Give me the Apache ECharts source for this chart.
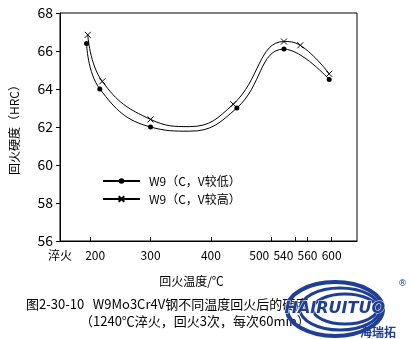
<!DOCTYPE html>
<html>
<head>
<meta charset="utf-8">
<script src="https://cdn.jsdelivr.net/npm/echarts@6/dist/echarts.min.js"></script>
<style>
html,body{margin:0;padding:0;background:#fff;}
#c{width:410px;height:339px;}
</style>
</head>
<body>
<div id="c"></div>
<script>
// ---- data ----
const xTickValues = [150, 200, 300, 400, 500, 540, 560, 600];
const xTickLabels = ['淬火', '200', '300', '400', '500', '540', '560', '600'];
const yTickValues = [56, 58, 60, 62, 64, 66, 68];

const lowName = 'W9（C，V较低）';
const lowTemps = [194, 216, 300, 365, 443, 521, 596];
const lowHardness = [66.4, 64.0, 62.0, 61.78, 63.0, 66.1, 64.5];
const lowMarked = [true, true, true, false, true, true, true];

const highName = 'W9（C，V较高）';
const highTemps = [196, 220, 300, 365, 437, 521, 548, 596];
const highHardness = [66.85, 64.4, 62.4, 62.02, 63.2, 66.5, 66.3, 64.8];
const highMarked = [true, true, true, false, true, true, true, true];

const titleLine1 = '图2-30-10   W9Mo3Cr4V钢不同温度回火后的硬度';
const titleLine2 = '（1240℃淬火，回火3次，每次60min）';
const xName = '回火温度/℃';
const yName = '回火硬度（HRC）';

// ---- rendering ----
const FONT = '"Noto Sans CJK SC", "Noto Sans", sans-serif';
const labelShift = {200: 'r5', 500: 'l12', 540: 'l12'};

function buildData(xs, ys, marked) {
  return xs.map((x, i) => marked[i] ? [x, ys[i]] : {value: [x, ys[i]], symbol: 'none'});
}

const xMark = 'path://M0,0L10,10M10,0L0,10';

const chart = echarts.init(document.getElementById('c'), null, {renderer: 'canvas'});
chart.setOption({
  animation: false,
  backgroundColor: '#fff',
  grid: {left: 60, top: 13, right: 53, bottom: 98, show: true, borderColor: '#000', borderWidth: 1, containLabel: false},
  legend: {
    orient: 'vertical', left: 97, top: 170,
    itemWidth: 37, itemHeight: 7, itemGap: 6,
    textStyle: {fontSize: 12, color: '#000', fontFamily: FONT, padding: [0, 0, 0, 4]},
    data: [lowName, highName]
  },
  xAxis: {
    type: 'value', min: 150, max: 642,
    name: xName, nameLocation: 'middle', nameGap: 34,
    nameTextStyle: {fontSize: 12, color: '#000', fontFamily: FONT, padding: [0, 34, 0, 0]},
    axisLine: {show: true, lineStyle: {color: '#000', width: 1}},
    axisTick: {show: true, inside: true, length: 4, lineStyle: {color: '#000'}, customValues: xTickValues.slice(1)},
    axisLabel: {
      color: '#000', fontSize: 12, fontFamily: FONT, margin: 8,
      customValues: xTickValues,
      formatter: function (v) {
        const i = xTickValues.indexOf(v);
        const s = i >= 0 ? xTickLabels[i] : '';
        const k = labelShift[v];
        return k ? '{' + k + '|' + s + '}' : s;
      },
      rich: {
        r5: {padding: [0, 0, 0, 10], fontSize: 12, color: '#000', fontFamily: FONT},
        l12: {padding: [0, 24, 0, 0], fontSize: 12, color: '#000', fontFamily: FONT}
      }
    },
    splitLine: {show: false}
  },
  yAxis: {
    type: 'value', min: 56, max: 68, interval: 2,
    name: yName, nameLocation: 'middle', nameGap: 40, nameRotate: 90,
    nameTextStyle: {fontSize: 12, color: '#000', fontFamily: FONT},
    axisLine: {show: true, lineStyle: {color: '#000', width: 1}},
    axisTick: {show: true, inside: false, length: 4, lineStyle: {color: '#000'}},
    axisLabel: {color: '#000', fontSize: 14, fontFamily: FONT, margin: 7},
    splitLine: {show: false}
  },
  series: [
    {
      name: lowName, type: 'line', smooth: 0.45,
      data: buildData(lowTemps, lowHardness, lowMarked),
      symbol: 'circle', symbolSize: 5, showSymbol: true,
      lineStyle: {color: '#000', width: 1},
      itemStyle: {color: '#000', borderColor: '#000', borderWidth: 0}
    },
    {
      name: highName, type: 'line', smooth: 0.45,
      data: buildData(highTemps, highHardness, highMarked),
      symbol: xMark, symbolSize: 6, showSymbol: true,
      lineStyle: {color: '#000', width: 1},
      itemStyle: {color: 'rgba(0,0,0,0)', borderColor: '#000', borderWidth: 1}
    }
  ],
  graphic: [
    {type: 'text', left: 26, top: 298, style: {text: titleLine1, font: '13px ' + FONT, fill: '#000'}},
    {type: 'text', left: 80, top: 315, style: {text: titleLine2, font: '13px ' + FONT, fill: '#000'}},
    {type: 'ellipse', shape: {cx: 335, cy: 309, rx: 48, ry: 27}, style: {fill: 'none', stroke: '#1f3f96', lineWidth: 4}},
    {type: 'ellipse', shape: {cx: 340, cy: 309, rx: 40, ry: 21}, style: {fill: 'none', stroke: '#1f3f96', lineWidth: 3}},
    {type: 'ellipse', shape: {cx: 345, cy: 309, rx: 32, ry: 15}, style: {fill: 'none', stroke: '#1f3f96', lineWidth: 3}},
    {type: 'text', left: 284, top: 300, style: {text: 'HAIRUITUO', font: 'italic bold 16px "DejaVu Sans", sans-serif', fill: '#1f3f96', stroke: '#fff', lineWidth: 1}},
    {type: 'text', left: 360, top: 326, style: {text: '海瑞拓', font: 'bold 12px ' + FONT, fill: '#1f3f96'}},
    {type: 'text', left: 398, top: 279, style: {text: '®', font: '9px "DejaVu Sans"', fill: '#1f3f96'}}
  ]
});
</script>
</body>
</html>
